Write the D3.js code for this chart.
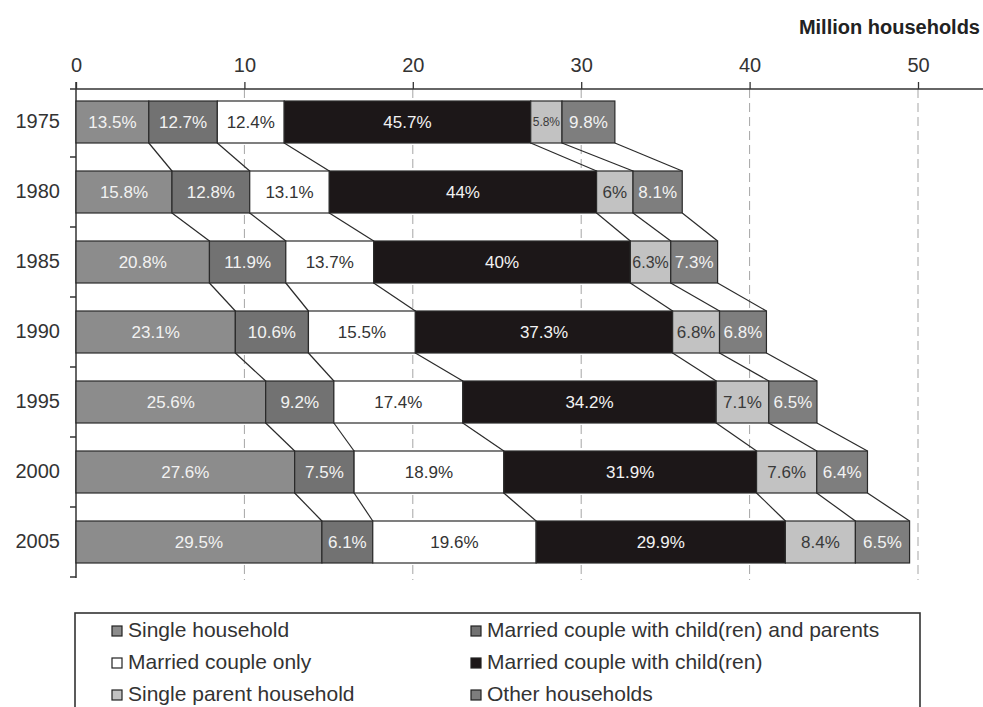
<!DOCTYPE html>
<html>
<head>
<meta charset="utf-8">
<script src="https://cdn.jsdelivr.net/npm/d3@7"></script>
<style>
  body { margin: 0; background: #fff; }
  svg { display: block; font-family: "Liberation Sans", Arial, Helvetica, sans-serif; }
</style>
</head>
<body>
<svg id="chart" width="983" height="707"></svg>
<script>
// household counts (million) and composition (%) by year
const years = ['1975', '1980', '1985', '1990', '1995', '2000', '2005'];
const totals = [32.0, 36.0, 38.1, 41.0, 44.0, 47.0, 49.5];

const seriesNames = [
    'Single household',
    'Married couple with child(ren) and parents',
    'Married couple only',
    'Married couple with child(ren)',
    'Single parent household',
    'Other households'
];
const single = [13.5, 15.8, 20.8, 23.1, 25.6, 27.6, 29.5];
const withParents = [12.7, 12.8, 11.9, 10.6, 9.2, 7.5, 6.1];
const coupleOnly = [12.4, 13.1, 13.7, 15.5, 17.4, 18.9, 19.6];
const withChildren = [45.7, 44, 40, 37.3, 34.2, 31.9, 29.9];
const singleParent = [5.8, 6, 6.3, 6.8, 7.1, 7.6, 8.4];
const other = [9.8, 8.1, 7.3, 6.8, 6.5, 6.4, 6.5];
const xTicks = [0, 10, 20, 30, 40, 50];

const shares = [single, withParents, coupleOnly, withChildren, singleParent, other];
const fills = ['#8c8c8c', '#727272', '#ffffff', '#1c1718', '#c2c2c2', '#7e7e7e'];
const labelColors = ['#f2f2f2', '#f2f2f2', '#333', '#f2f2f2', '#3a3a3a', '#f2f2f2'];

// rows for d3.stack, each share turned into millions of households
const keys = seriesNames.map((d, i) => 'k' + i);
const rows = years.map((year, j) => {
    const sum = d3.sum(shares, s => s[j]);
    const row = { year };
    shares.forEach((s, i) => { row[keys[i]] = totals[j] * s[j] / sum; });
    return row;
});
const stacked = d3.stack().keys(keys)(rows);

const svg = d3.select('#chart');

const x = d3.scaleLinear().domain([0, 50]).range([76, 918]);
const y = d3.scaleBand().domain(years).range([87, 577]).paddingInner(0.4).paddingOuter(0.2);
const bw = y.bandwidth();
const axisY = 89;

// dashed grid
svg.append('g')
    .selectAll('line')
    .data(xTicks.slice(1))
    .enter()
    .append('line')
    .attr('x1', d => x(d)).attr('x2', d => x(d))
    .attr('y1', axisY).attr('y2', 580)
    .attr('stroke', '#a5a5a5')
    .attr('stroke-width', 1)
    .attr('stroke-dasharray', '9,5');

// top axis
const gx = svg.append('g')
    .attr('transform', `translate(0,${axisY})`)
    .call(d3.axisTop(x).tickValues(xTicks).tickSize(7).tickPadding(10));
gx.select('.domain').remove();
gx.selectAll('.tick line').attr('stroke', '#333').attr('stroke-width', 1.3);
gx.selectAll('.tick text')
    .attr('fill', '#333')
    .style('font-size', '20px')
    .style('font-family', '"Liberation Sans", Arial, sans-serif');
svg.append('line')
    .attr('x1', 70).attr('x2', 983)
    .attr('y1', axisY).attr('y2', axisY)
    .attr('stroke', '#333').attr('stroke-width', 1.5);

svg.append('text')
    .attr('x', 980).attr('y', 34)
    .attr('text-anchor', 'end')
    .attr('fill', '#222')
    .style('font-size', '20px')
    .style('font-weight', 'bold')
    .text('Million households');

// left axis with ticks between the bars
const gy = svg.append('g')
    .attr('transform', `translate(${x(0)},0)`)
    .call(d3.axisLeft(y).tickSize(0).tickPadding(16));
gy.select('.domain').remove();
gy.selectAll('.tick text')
    .attr('fill', '#333')
    .style('font-size', '20px')
    .style('font-family', '"Liberation Sans", Arial, sans-serif');
svg.append('line')
    .attr('x1', x(0)).attr('x2', x(0))
    .attr('y1', axisY - 7).attr('y2', 578)
    .attr('stroke', '#333').attr('stroke-width', 1.5);
svg.append('g')
    .selectAll('line')
    .data(years)
    .enter()
    .append('line')
    .attr('x1', x(0) - 6).attr('x2', x(0))
    .attr('y1', d => y(d) + bw + y.step() * 0.2)
    .attr('y2', d => y(d) + bw + y.step() * 0.2)
    .attr('stroke', '#333').attr('stroke-width', 1.5);

// connector lines between each bar's segment ends and the next bar's
const links = [];
stacked.forEach(layer => {
    for (let j = 0; j < years.length - 1; j++) {
        links.push({ a: layer[j][1], b: layer[j + 1][1], y0: years[j], y1: years[j + 1] });
    }
});
svg.append('g')
    .selectAll('line')
    .data(links)
    .enter()
    .append('line')
    .attr('x1', d => x(d.a)).attr('y1', d => y(d.y0) + bw)
    .attr('x2', d => x(d.b)).attr('y2', d => y(d.y1))
    .attr('stroke', '#2a2a2a')
    .attr('stroke-width', 1.2);

// bars
const layers = svg.append('g')
    .selectAll('g')
    .data(stacked)
    .enter()
    .append('g');

layers.selectAll('rect')
    .data(d => d)
    .enter()
    .append('rect')
    .attr('x', d => x(d[0]))
    .attr('y', d => y(d.data.year))
    .attr('width', d => x(d[1]) - x(d[0]))
    .attr('height', bw)
    .attr('fill', function () { return fills[d3.select(this.parentNode).datum().index]; })
    .attr('stroke', '#2a2a2a')
    .attr('stroke-width', 1.2);

layers.selectAll('text')
    .data((layer, i) => layer.map((d, j) => ({ d, i, j })))
    .enter()
    .append('text')
    .attr('x', o => (x(o.d[0]) + x(o.d[1])) / 2)
    .attr('y', o => y(o.d.data.year) + bw / 2 + 6)
    .attr('text-anchor', 'middle')
    .attr('fill', o => labelColors[o.i])
    .style('font-size', '17px')
    .text(o => shares[o.i][o.j] + '%')
    .each(function (o) {
        // shrink labels that do not fit their segment
        const room = x(o.d[1]) - x(o.d[0]) - 4;
        const w = this.getComputedTextLength();
        if (w > room) {
            const fs = Math.max(9, 17 * room / w);
            d3.select(this).style('font-size', fs + 'px').attr('y', y(o.d.data.year) + bw / 2 + fs * 0.36);
        }
    });

// legend
svg.append('rect')
    .attr('x', 75).attr('y', 613)
    .attr('width', 845).attr('height', 110)
    .attr('fill', 'none')
    .attr('stroke', '#333')
    .attr('stroke-width', 1.6);

const legend = svg.append('g')
    .selectAll('g')
    .data(seriesNames)
    .enter()
    .append('g')
    .attr('transform', (d, i) => `translate(${i % 2 === 0 ? 112 : 471},${637 + Math.floor(i / 2) * 32})`);
legend.append('rect')
    .attr('x', 0).attr('y', -11)
    .attr('width', 10).attr('height', 10)
    .attr('fill', (d, i) => fills[i])
    .attr('stroke', '#222')
    .attr('stroke-width', 1.2);
legend.append('text')
    .attr('x', 16).attr('y', 0)
    .attr('fill', '#333')
    .style('font-size', '21px')
    .text(d => d);
</script>
</body>
</html>
